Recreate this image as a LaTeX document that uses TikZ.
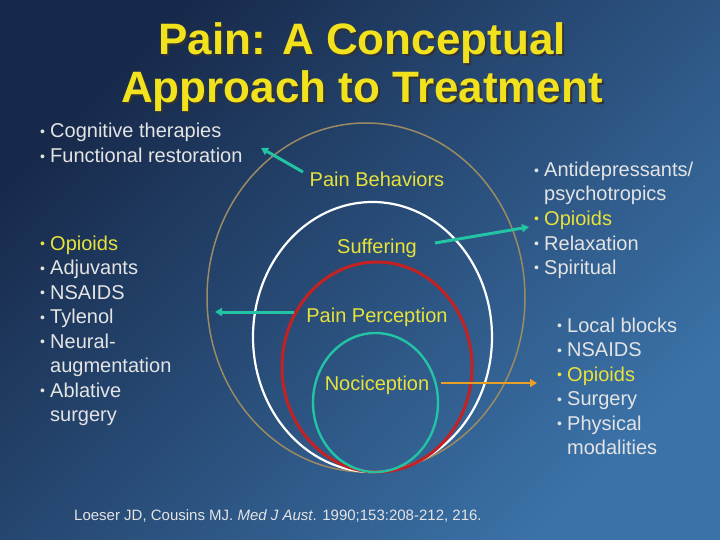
\documentclass[tikz,border=0pt]{standalone}
\usepackage{fontspec}
\setmainfont{Liberation Sans}
\usetikzlibrary{arrows.meta}
\definecolor{bgA}{HTML}{17294A}
\definecolor{bgB}{HTML}{3B72A8}
\definecolor{ttl}{HTML}{F2E21E}
\definecolor{lab}{HTML}{E8E23A}
\definecolor{txt}{HTML}{E4E4E4}
\definecolor{tan}{HTML}{9C8A62}
\definecolor{redc}{HTML}{C42222}
\definecolor{tealc}{HTML}{22C4A4}
\definecolor{orng}{HTML}{E8A024}
\newcommand\bl{\makebox[10pt][l]{\fontsize{14}{14}\selectfont\raisebox{1.5pt}{•}}}
\newcommand\ind{\hspace*{10pt}}
\newcommand\shadowed[1]{\rlap{\hspace*{2pt}\raisebox{-2pt}{\textcolor{black!80}{#1}}}\textcolor{ttl}{#1}}
\tikzset{
  titletext/.style={font=\fontsize{44}{48}\selectfont\bfseries, anchor=base, inner sep=0pt},
  body/.style={font=\fontsize{20}{24}\selectfont, text=txt, anchor=base west, inner sep=0pt},
  hl/.style={body, text=lab},
  circlab/.style={font=\fontsize{20}{24}\selectfont, text=lab, anchor=base, inner sep=0pt},
  arr/.style={line width=3pt, -{Triangle[length=7pt,width=8pt]}},
}
\begin{document}
\begin{tikzpicture}[x=1pt,y=-1pt]
\useasboundingbox (0,0) rectangle (720,540);
\shade[top color=bgA, bottom color=bgB, shading angle=45] (0,0) rectangle (720,540);

% title
\node[titletext] (t1) at (362,55) {\shadowed{Pain: A Conceptual}};
\node[titletext] (t2) at (362,103) {\shadowed{Approach to Treatment}};

% ellipses
\draw[tan, line width=1.5pt] (366,297.5) ellipse [x radius=159, y radius=174.5];
\draw[white, line width=2.2pt] (372.5,337) ellipse [x radius=119.5, y radius=135];
\draw[redc, line width=3pt] (377,367) ellipse [x radius=95, y radius=105];
\draw[tealc, line width=2.4pt] (375.5,402.5) ellipse [x radius=62.5, y radius=69.5];

% circle labels
\node[circlab] (pb) at (377,187) {Pain Behaviors};
\node[circlab] (su) at (377,253) {Suffering};
\node[circlab] (pp) at (377,322) {Pain Perception};
\node[circlab] (no) at (377,390) {Nociception};

% left lists
\node[body] (l1) at (40,138) {\bl Cognitive therapies};
\node[body] (l2) at (40,163) {\bl Functional restoration};

\node[hl]   (m1) at (40,250) {\bl Opioids};
\node[body] (m2) at (40,274.5) {\bl Adjuvants};
\node[body] (m3) at (40,299) {\bl NSAIDS};
\node[body] (m4) at (40,323.5) {\bl Tylenol};
\node[body] (m5) at (40,348) {\bl Neural-};
\node[body] (m6) at (40,372.5) {\ind augmentation};
\node[body] (m7) at (40,397) {\bl Ablative};
\node[body] (m8) at (40,421.5) {\ind surgery};

% right lists
\node[body] (r1) at (534,177) {\bl Antidepressants/};
\node[body] (r2) at (534,201) {\ind psychotropics};
\node[hl]   (r3) at (534,225.5) {\bl Opioids};
\node[body] (r4) at (534,250) {\bl Relaxation};
\node[body] (r5) at (534,274) {\bl Spiritual};

\node[body] (s1) at (557,332) {\bl Local blocks};
\node[body] (s2) at (557,356.5) {\bl NSAIDS};
\node[hl]   (s3) at (557,381) {\bl Opioids};
\node[body] (s4) at (557,405.5) {\bl Surgery};
\node[body] (s5) at (557,430) {\bl Physical};
\node[body] (s6) at (557,454.5) {\ind modalities};

% arrows
\coordinate (a1s) at (303,172);
\coordinate (a1e) at (261,148);
\coordinate (a2s) at (435,243);
\coordinate (a2e) at (529,227);
\coordinate (a3s) at (294,312);
\coordinate (a3e) at (215,312);
\coordinate (a4s) at (441,383);
\coordinate (a4e) at (537,383);
\draw[arr, tealc] (a1s) -- (a1e);
\draw[arr, tealc] (a2s) -- (a2e);
\draw[arr, tealc] (a3s) -- (a3e);
\draw[arr, orng, line width=2.4pt] (a4s) -- (a4e);

% citation
\node[font=\fontsize{15}{18}\selectfont, text=txt, anchor=base west, inner sep=0pt] (cit) at (74,520)
  {Loeser JD, Cousins MJ. \textit{Med J Aust}. 1990;153:208-212, 216.};
\end{tikzpicture}
\end{document}
